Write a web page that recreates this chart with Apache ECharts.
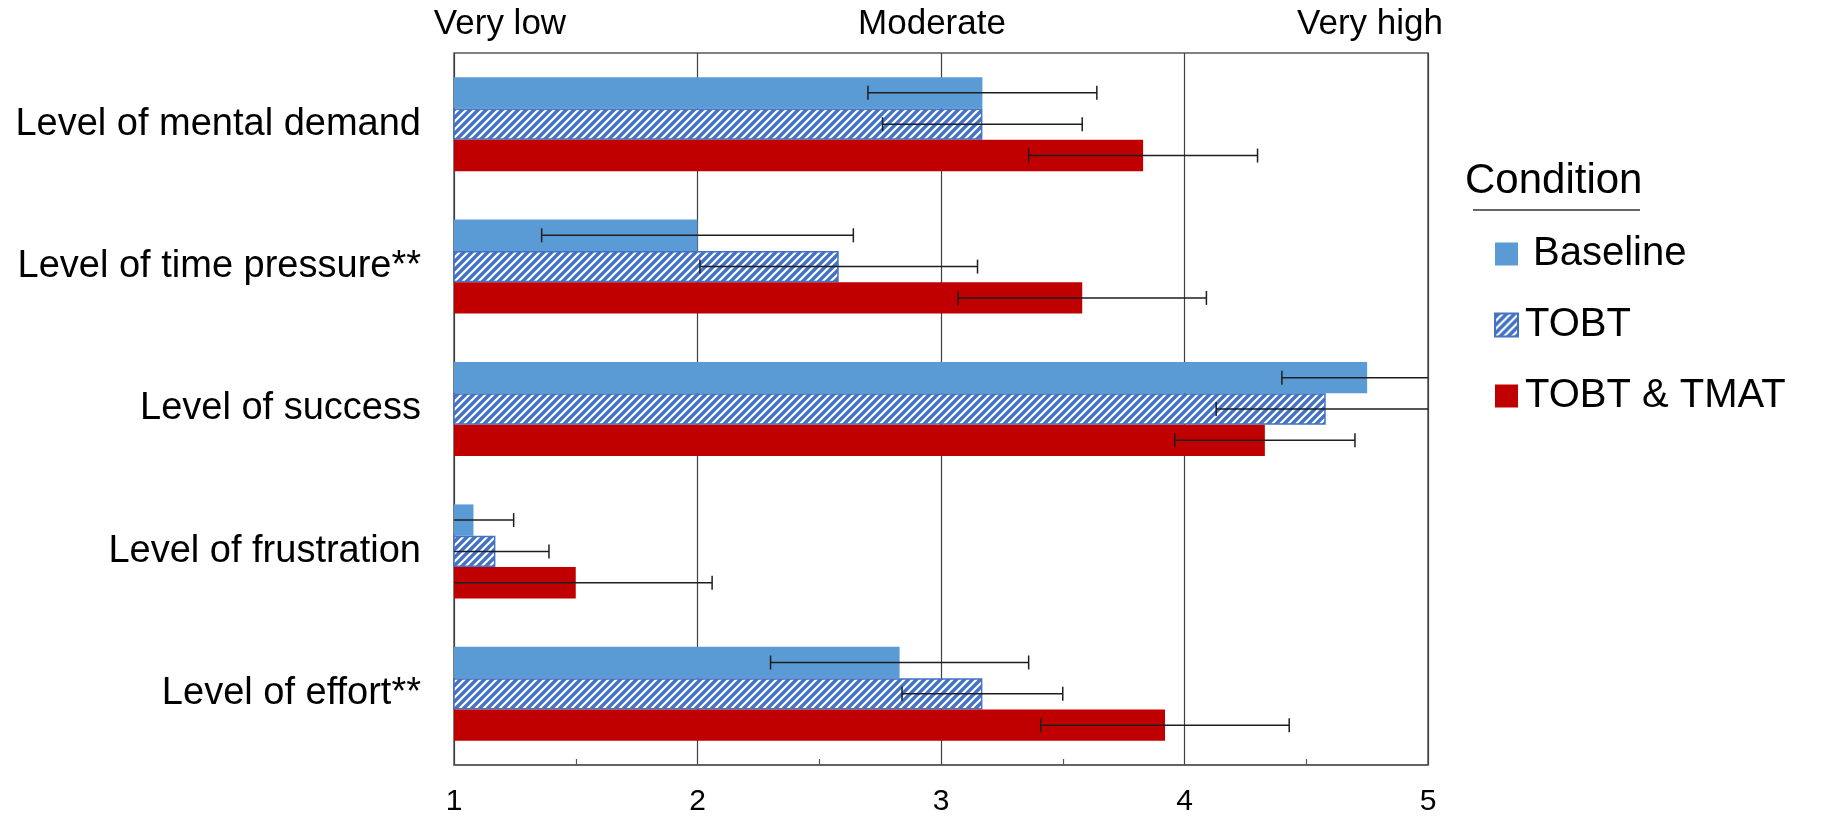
<!DOCTYPE html>
<html><head><meta charset="utf-8">
<script src="https://cdn.jsdelivr.net/npm/echarts/dist/echarts.min.js"></script>
<style>html,body{margin:0;padding:0;background:#fff}#c{width:1821px;height:817px}</style>
</head><body><div id="c"></div>
<script>
const categories = ['Level of mental demand','Level of time pressure**','Level of success','Level of frustration','Level of effort**'];
const seriesNames = ['Baseline','TOBT','TOBT & TMAT'];
const baselineMean = [3.17, 2.00, 4.75, 1.08, 2.83];
const tobtMean = [3.17, 2.58, 4.58, 1.17, 3.17];
const tmatMean = [3.83, 3.58, 4.33, 1.50, 3.92];
const baselineSD = [0.47, 0.64, 0.35, 0.165, 0.53];
const tobtSD = [0.41, 0.57, 0.45, 0.22, 0.33];
const tmatSD = [0.47, 0.51, 0.37, 0.56, 0.51];
const xMin = 1, xMax = 5, xStep = 1;
const scaleLabels = ['Very low','Moderate','Very high'];
const legendTitle = 'Condition';

const FONT = '"Liberation Sans", Arial, Helvetica, sans-serif';
const CAT_GAP = 0.34;

function hatch(){
  const c = document.createElement('canvas'); c.width = 8; c.height = 8;
  const g = c.getContext('2d');
  g.fillStyle = '#4472C4'; g.fillRect(0,0,8,8);
  g.strokeStyle = '#ffffff'; g.lineWidth = 2.2;
  g.beginPath();
  g.moveTo(-1,9); g.lineTo(9,-1);
  g.moveTo(-1,1); g.lineTo(1,-1);
  g.moveTo(7,9); g.lineTo(9,7);
  g.stroke();
  return c;
}
const hatchImg = hatch();

function errSeries(idx, mean, sd){
  return {
    type:'custom', silent:true, z:10, clip:true,
    data: mean.map((m,i)=>[i,m,sd[i]]),
    encode:{x:1,y:0},
    renderItem(params, api){
      const cat = api.value(0), m = api.value(1), s = api.value(2);
      const band = api.size([0,1])[1];
      const bw = band*(1-CAT_GAP)/3;
      const off = -band*(1-CAT_GAP)/2 + bw*(idx+0.5);
      const lo = Math.max(xMin, m-s), hi = Math.min(xMax, m+s);
      const p1 = api.coord([lo,cat]), p2 = api.coord([hi,cat]);
      const y = p1[1] + off, h = 7;
      const st = {stroke:'#1e1e1e', lineWidth:1.5};
      const ch = [{type:'line', shape:{x1:p1[0],y1:y,x2:p2[0],y2:y}, style:st}];
      if (m-s > xMin) ch.push({type:'line', shape:{x1:p1[0],y1:y-h,x2:p1[0],y2:y+h}, style:st});
      if (m+s < xMax) ch.push({type:'line', shape:{x1:p2[0],y1:y-h,x2:p2[0],y2:y+h}, style:st});
      return {type:'group', children:ch};
    }
  };
}

const chart = echarts.init(document.getElementById('c'));
chart.setOption({
  animation:false,
  textStyle:{fontFamily:FONT},
  grid:{left:454, right:393, top:53, bottom:50, show:true, borderColor:'#595959', borderWidth:1.5, containLabel:false},
  xAxis:{
    type:'value', min:xMin, max:xMax, interval:xStep,
    axisLine:{show:true, lineStyle:{color:'#595959', width:1.5}},
    axisTick:{show:true, inside:true, length:0},
    minorTick:{show:true, splitNumber:2, length:6, lineStyle:{color:'#595959', width:1.2}},
    splitLine:{show:true, lineStyle:{color:'#404040', width:1.2}},
    axisLabel:{fontSize:30, color:'#000', margin:22, fontFamily:FONT}
  },
  yAxis:{
    type:'category', data:categories, inverse:true,
    axisLine:{show:false}, axisTick:{show:false},
    axisLabel:{fontSize:38, color:'#000', margin:33, fontFamily:FONT}
  },
  legend:{
    data:seriesNames, orient:'vertical', left:1489, top:229,
    itemWidth:23, itemHeight:23, itemGap:31, icon:'rect',
    formatter: name => (name === seriesNames[0] ? '{a|' : '{b|') + name + '}',
    textStyle:{fontSize:40, color:'#000', lineHeight:40, fontFamily:FONT,
      rich:{
        a:{fontSize:40, lineHeight:40, color:'#000', fontFamily:FONT, padding:[0,0,0,10]},
        b:{fontSize:40, lineHeight:40, color:'#000', fontFamily:FONT, padding:[0,0,0,2]}
      }}
  },
  graphic:[
    {type:'text', left:1465, top:160, style:{text:legendTitle, fontSize:42, fill:'#000', fontFamily:FONT}},
    {type:'line', shape:{x1:1473,y1:210,x2:1640,y2:210}, style:{stroke:'#333', lineWidth:1.5}},
    {type:'text', x:500, y:24, style:{text:scaleLabels[0], fontSize:35, fill:'#000', align:'center', verticalAlign:'middle', fontFamily:FONT}},
    {type:'text', x:932, y:24, style:{text:scaleLabels[1], fontSize:35, fill:'#000', align:'center', verticalAlign:'middle', fontFamily:FONT}},
    {type:'text', x:1370, y:24, style:{text:scaleLabels[2], fontSize:35, fill:'#000', align:'center', verticalAlign:'middle', fontFamily:FONT}}
  ],
  series:[
    {name:seriesNames[0], type:'bar', data:baselineMean, barGap:'0%', barCategoryGap:(CAT_GAP*100)+'%', itemStyle:{color:'#5B9BD5'}},
    {name:seriesNames[1], type:'bar', data:tobtMean, itemStyle:{color:{image:hatchImg, repeat:'repeat'}, borderColor:'#4472C4', borderWidth:1.5}},
    {name:seriesNames[2], type:'bar', data:tmatMean, itemStyle:{color:'#C00000'}},
    errSeries(0, baselineMean, baselineSD),
    errSeries(1, tobtMean, tobtSD),
    errSeries(2, tmatMean, tmatSD)
  ]
});
</script></body></html>
